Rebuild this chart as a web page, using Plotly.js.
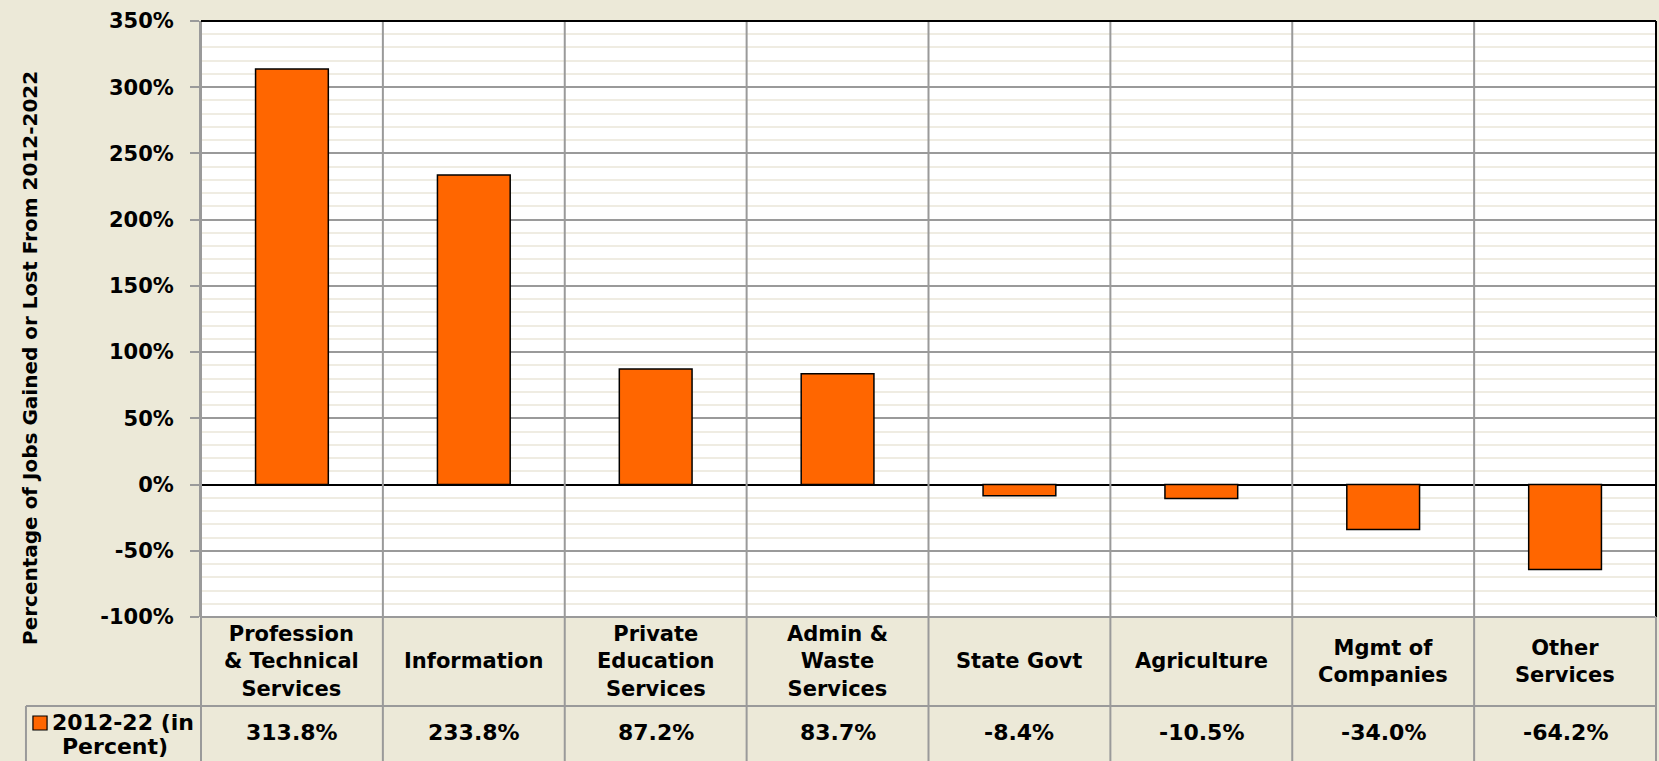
<!DOCTYPE html>
<html>
<head>
<meta charset="utf-8">
<script src="https://cdn.plot.ly/plotly-3.0.1.min.js"></script>
<style>html,body{margin:0;padding:0;background:#ECE9D8;}</style>
</head>
<body>
<div id="chart" style="width:1659px;height:761px;"></div>
<script>
const categories = ["Profession & Technical Services", "Information", "Private Education Services", "Admin & Waste Services", "State Govt", "Agriculture", "Mgmt of Companies", "Other Services"];
const categoryLabels = ["Profession<br>&amp; Technical<br>Services", "Information", "Private<br>Education<br>Services", "Admin &amp;<br>Waste<br>Services", "State Govt", "Agriculture", "Mgmt of<br>Companies", "Other<br>Services"];
const seriesName = "2012-22 (in Percent)";
const values = [313.8, 233.8, 87.2, 83.7, -8.4, -10.5, -34.0, -64.2];
const yTickVals = [-100, -50, 0, 50, 100, 150, 200, 250, 300, 350];
const yTickText = ["-100%", "-50%", "0%", "50%", "100%", "150%", "200%", "250%", "300%", "350%"];
const yTitle = "Percentage of Jobs Gained or Lost From 2012-2022";

const FONT = "DejaVu Sans, Verdana, sans-serif";
const GRID = "#9a9a9a";
const n = categories.length;

// geometry helpers (paper coords)
const row1Bottom = -0.1493;
const row2Bottom = -0.245;
const legendLeft = -0.1203;

const shapes = [];
for (let i = 0; i <= n; i++) {
  shapes.push({type: "line", xref: "paper", yref: "paper", x0: i / n, x1: i / n, y0: (i === n ? 0 : 1), y1: row2Bottom,
    line: {color: GRID, width: 2}, layer: "above"});
}
shapes.push({type: "line", xref: "paper", yref: "paper", x0: 0, x1: 1, y0: 1, y1: 1, line: {color: "#000", width: 2}, layer: "above"});
shapes.push({type: "line", xref: "paper", yref: "paper", x0: 1, x1: 1, y0: 0, y1: 1, line: {color: "#000", width: 2}, layer: "above"});
shapes.push({type: "line", xref: "paper", yref: "paper", x0: 0, x1: 1, y0: 0, y1: 0, line: {color: GRID, width: 2}, layer: "above"});
shapes.push({type: "line", xref: "paper", yref: "paper", x0: legendLeft, x1: 1, y0: row1Bottom, y1: row1Bottom, line: {color: GRID, width: 2}, layer: "above"});
shapes.push({type: "line", xref: "paper", yref: "paper", x0: legendLeft, x1: legendLeft, y0: row1Bottom, y1: row2Bottom, line: {color: GRID, width: 2}, layer: "above"});
shapes.push({type: "rect", xref: "paper", yref: "paper", x0: -0.1155, x1: -0.1058, y0: -0.1661, y1: -0.1896,
  fillcolor: "#FF6600", line: {color: "#000", width: 1.2}, layer: "above"});

const annotations = [];
for (let i = 0; i < n; i++) {
  annotations.push({xref: "x", yref: "paper", x: categories[i], y: (0 + row1Bottom) / 2, text: categoryLabels[i],
    showarrow: false, xanchor: "center", yanchor: "middle", align: "center",
    font: {family: FONT, size: 21, color: "#000", weight: "bold"}});
  annotations.push({xref: "x", yref: "paper", x: categories[i], y: -0.193, text: values[i].toFixed(1) + "%",
    showarrow: false, xanchor: "center", yanchor: "middle",
    font: {family: FONT, size: 22, color: "#000", weight: "bold"}});
}
const legendParts = seriesName.replace(" Percent)", "|Percent)").split("|");
annotations.push({xref: "paper", yref: "paper", x: -0.0535, y: -0.1775, text: legendParts[0], showarrow: false,
  xanchor: "center", yanchor: "middle", font: {family: FONT, size: 22, color: "#000", weight: "bold"}});
annotations.push({xref: "paper", yref: "paper", x: -0.059, y: -0.2175, text: legendParts[1], showarrow: false,
  xanchor: "center", yanchor: "middle", font: {family: FONT, size: 22, color: "#000", weight: "bold"}});
annotations.push({xref: "paper", yref: "paper", x: -0.1175, y: 0.4346, text: yTitle, textangle: -90, showarrow: false,
  xanchor: "center", yanchor: "middle", font: {family: FONT, size: 20, color: "#000", weight: "bold"}});

const trace = {
  type: "bar",
  x: categories,
  y: values,
  name: seriesName,
  marker: {color: "#FF6600", line: {color: "#000", width: 1.5}},
  hoverinfo: "x+y"
};

const layout = {
  width: 1659, height: 761,
  margin: {l: 201, r: 3, t: 21, b: 144, pad: 0},
  paper_bgcolor: "#ECE9D8",
  plot_bgcolor: "#FFFFFF",
  showlegend: false,
  bargap: 0.6,
  xaxis: {type: "category", range: [-0.5, n - 0.5], showticklabels: false, ticks: "", showgrid: false, zeroline: false, fixedrange: true},
  yaxis: {
    range: [-100, 350], tickmode: "array", tickvals: yTickVals, ticktext: yTickText,
    showgrid: true, gridcolor: GRID, gridwidth: 2,
    minor: {dtick: 10, showgrid: true, gridcolor: "#EFECE2", gridwidth: 2, ticks: ""},
    zeroline: true, zerolinecolor: "#000", zerolinewidth: 2,
    ticks: "outside", ticklen: 9, tickcolor: GRID, tickwidth: 2,
    ticklabelstandoff: 12,
    showline: true, linecolor: GRID, linewidth: 2,
    tickfont: {family: FONT, size: 21, color: "#000", weight: "bold"},
    fixedrange: true
  },
  shapes: shapes,
  annotations: annotations
};

Plotly.newPlot("chart", [trace], layout, {displayModeBar: false, staticPlot: true});
</script>
</body>
</html>
